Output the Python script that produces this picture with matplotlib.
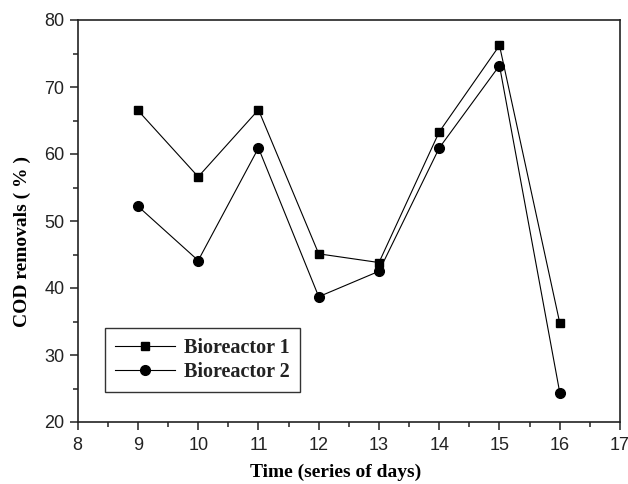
import numpy as np
import matplotlib.pyplot as plt
from matplotlib.ticker import MultipleLocator

# %% Data
days = [9, 10, 11, 12, 13, 14, 15, 16]
bioreactor1 = [66.5, 56.6, 66.6, 45.1, 43.8, 63.3, 76.2, 34.8]
bioreactor2 = [52.2, 44.1, 60.9, 38.7, 42.5, 60.9, 73.2, 24.4]

# %% Plot
plt.close("all")
fig = plt.figure(figsize=(6.28, 4.84), dpi=100)
ax = fig.add_axes([77.7 / 628, 1 - 422 / 484, 542.3 / 628, 402 / 484])

ax.plot(days, bioreactor1, color="black", lw=0.8, marker="s", ms=6,
        label="Bioreactor 1")
ax.plot(days, bioreactor2, color="black", lw=0.8, marker="o", ms=7,
        label="Bioreactor 2")

ax.set_xlim(8, 17)
ax.set_ylim(20, 80)
ax.xaxis.set_major_locator(MultipleLocator(1))
ax.xaxis.set_minor_locator(MultipleLocator(0.5))
ax.yaxis.set_major_locator(MultipleLocator(10))
ax.yaxis.set_minor_locator(MultipleLocator(5))
ax.tick_params(which="both", direction="out", width=1.1, top=False, right=False,
               labelsize=13, colors="#222222")
ax.tick_params(which="major", length=6)
ax.tick_params(which="minor", length=3.5)
ax.tick_params(axis="x", pad=5)
for lbl in ax.get_xticklabels() + ax.get_yticklabels():
    lbl.set_fontfamily("Liberation Sans")
for sp in ax.spines.values():
    sp.set_linewidth(1.2)
    sp.set_color("#222222")

lab_font = dict(family="Liberation Serif", weight="bold", size=14)
ax.set_xlabel("Time (series of days)", fontdict=lab_font)
ax.xaxis.set_label_coords(0.476, -0.104)
ax.set_ylabel("COD removals ( % )", fontdict=lab_font)
ax.yaxis.set_label_coords(-0.086, 0.448)

leg = ax.legend(loc="lower left", bbox_to_anchor=(0.05, 0.075),
                prop=dict(family="Liberation Serif", weight="bold", size=14.5),
                frameon=True, fancybox=False, edgecolor="black",
                handlelength=3.0, borderpad=0.5, labelspacing=0.2,
                handletextpad=0.45, borderaxespad=0)
leg.get_frame().set_linewidth(1.0)
for t in leg.get_texts():
    t.set_color("#222222")

fig.savefig("out.png", dpi=100)
